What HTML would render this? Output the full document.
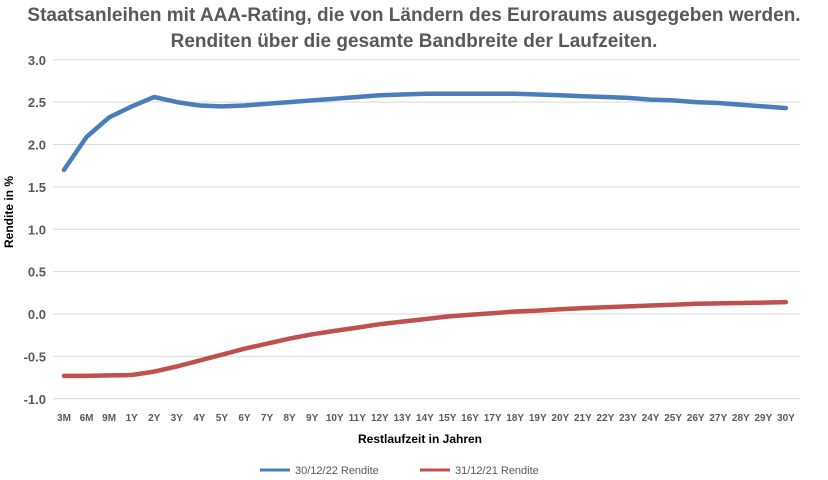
<!DOCTYPE html>
<html><head><meta charset="utf-8"><style>
body{margin:0;background:#fff;}
svg{display:block;font-family:"Liberation Sans",sans-serif;}
</style></head><body>
<svg id="s" width="828" height="480" xmlns="http://www.w3.org/2000/svg">
<text x="414" y="21" text-anchor="middle" font-size="19" font-weight="bold" fill="#595959">Staatsanleihen mit AAA-Rating, die von Ländern des Euroraums ausgegeben werden.</text>
<text x="414" y="47" text-anchor="middle" font-size="19" font-weight="bold" fill="#595959">Renditen über die gesamte Bandbreite der Laufzeiten.</text>
<g id="grid" stroke="#d9d9d9" stroke-width="1"></g>
<g id="yl" font-size="13" font-weight="bold" fill="#595959" text-anchor="end"></g>
<g id="xl" font-size="10" font-weight="bold" fill="#595959" text-anchor="middle"></g>
<text transform="translate(13,212) rotate(-90)" text-anchor="middle" font-size="12" font-weight="bold" fill="#000">Rendite in %</text>
<text x="420" y="443" text-anchor="middle" font-size="12" font-weight="bold" fill="#000">Restlaufzeit in Jahren</text>
<polyline id="b" fill="none" stroke="#4a7ebb" stroke-width="4.5" stroke-linejoin="round" stroke-linecap="round"/>
<polyline id="r" fill="none" stroke="#c0504d" stroke-width="4.5" stroke-linejoin="round" stroke-linecap="round"/>
<line x1="260" y1="470" x2="290" y2="470" stroke="#4a7ebb" stroke-width="3"/>
<text x="295" y="474" font-size="11" fill="#595959">30/12/22 Rendite</text>
<line x1="420" y1="470" x2="450" y2="470" stroke="#c0504d" stroke-width="3"/>
<text x="455" y="474" font-size="11" fill="#595959">31/12/21 Rendite</text>
</svg>
<script>
var ns="http://www.w3.org/2000/svg";
function Y(v){return 314-v*84.75;}
var g=document.getElementById("grid"),yl=document.getElementById("yl");
for(var i=0;i<=8;i++){var v=3-i*0.5;var y=Y(v);
var l=document.createElementNS(ns,"line");l.setAttribute("x1",53);l.setAttribute("x2",800);l.setAttribute("y1",y);l.setAttribute("y2",y);g.appendChild(l);
var t=document.createElementNS(ns,"text");t.setAttribute("x",46);t.setAttribute("y",y+5);t.textContent=v.toFixed(1);yl.appendChild(t);}
var labs=["3M","6M","9M"];for(var k=1;k<=30;k++)labs.push(k+"Y");
var xl=document.getElementById("xl");
function X(i){return 64+i*22.56;}
labs.forEach(function(s,i){var t=document.createElementNS(ns,"text");t.setAttribute("x",X(i));t.setAttribute("y",421);t.textContent=s;xl.appendChild(t);});
var B=[1.7,2.09,2.32,2.45,2.56,2.5,2.46,2.45,2.46,2.48,2.5,2.52,2.54,2.56,2.58,2.59,2.6,2.6,2.6,2.6,2.6,2.59,2.58,2.57,2.56,2.55,2.53,2.52,2.5,2.49,2.47,2.45,2.43];
var R=[-0.73,-0.73,-0.725,-0.72,-0.68,-0.62,-0.55,-0.48,-0.41,-0.35,-0.29,-0.24,-0.2,-0.16,-0.12,-0.09,-0.06,-0.03,-0.01,0.01,0.03,0.04,0.055,0.07,0.08,0.09,0.1,0.11,0.12,0.125,0.13,0.135,0.14];
function pts(a){return a.map(function(v,i){return X(i).toFixed(1)+","+Y(v).toFixed(1);}).join(" ");}
document.getElementById("b").setAttribute("points",pts(B));
document.getElementById("r").setAttribute("points",pts(R));
</script>
</body></html>
